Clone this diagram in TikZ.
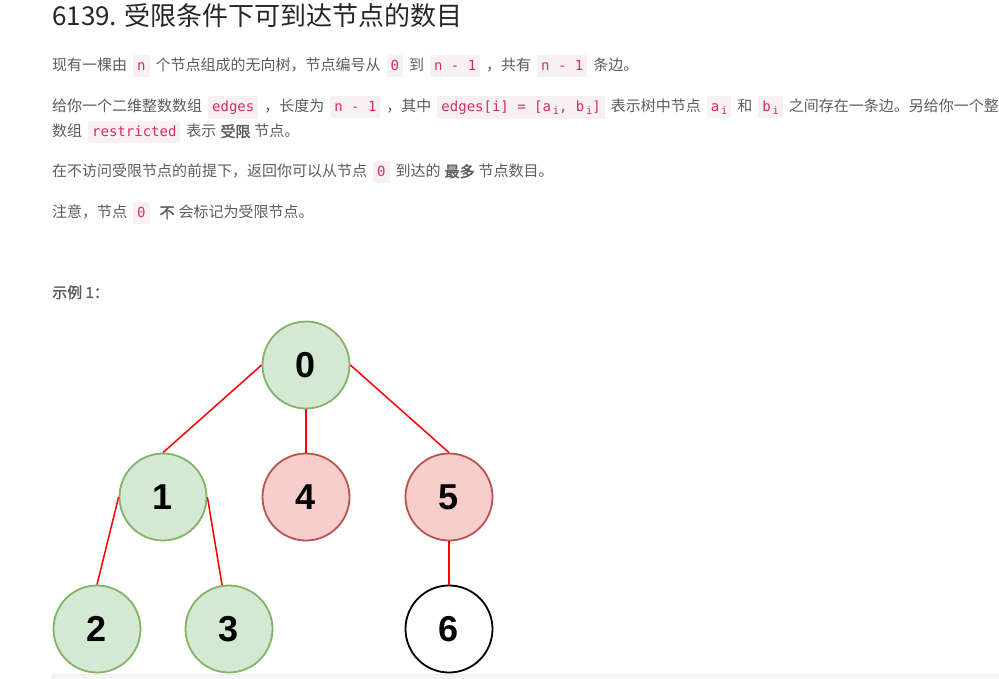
\documentclass[tikz,border=0pt]{standalone}
\usepackage{fontspec}
\setmainfont{Noto Sans CJK SC}[AutoFakeBold=2]
\newfontfamily\codefont{DejaVu Sans Mono}
\newfontfamily\numfont{Liberation Sans}
\usetikzlibrary{positioning}
\definecolor{txt}{HTML}{5C5C5C}
\definecolor{ttl}{HTML}{262626}
\definecolor{codefg}{HTML}{D42F5C}
\definecolor{codebg}{HTML}{F7F1F3}
\definecolor{gfill}{HTML}{D5E8D4}
\definecolor{gline}{HTML}{82B366}
\definecolor{rfill}{HTML}{F8CECC}
\definecolor{rline}{HTML}{B85450}
\definecolor{boxbg}{HTML}{F5F5F5}
\definecolor{boxline}{HTML}{D0D0D0}
\newcommand{\chip}[1]{\hspace{6pt}{\setlength{\fboxsep}{4pt}\colorbox{codebg}{\rule[-2pt]{0pt}{14pt}\codefont\fontsize{14}{17}\selectfont\color{codefg}#1}}\hspace{6pt}}
\newcommand{\boldword}[1]{\hspace{4pt}{\bfseries #1}\hspace{4pt}}
\newcommand{\subi}{\raisebox{-2.5pt}{\fontsize{10.5}{10}\selectfont\,i}}
\tikzset{
  para/.style={anchor=base west, inner sep=0pt, text=txt, font=\fontsize{15}{18}\selectfont},
  tnode/.style={draw, circle, line width=1.8pt, minimum size=87pt, font=\numfont\bfseries\fontsize{36}{36}\selectfont},
  keep/.style={tnode, fill=gfill, draw=gline},
  cut/.style={tnode, fill=rfill, draw=rline},
  plain/.style={tnode, fill=white, draw=black},
  edge/.style={red, line width=1.5pt}
}
\begin{document}
\begin{tikzpicture}[x=1pt,y=-1pt]
\useasboundingbox (0,0) rectangle (999,679);
\clip (0,0) rectangle (999,679);
% text of the problem
\node[para, text=ttl, font=\fontsize{26}{30}\selectfont] (title) at (52,26) {6139. 受限条件下可到达节点的数目};
\node[para] (L1) at (52,71) {现有一棵由\chip{n}个节点组成的无向树，节点编号从\chip{0}到\chip{n - 1}，共有\chip{n - 1}条边。};
\node[para] (L2) at (52,112) {给你一个二维整数数组\chip{edges}，长度为\chip{n - 1}，其中\chip{edges[i] = [a\subi, b\subi]}表示树中节点\chip{a\subi}和\chip{b\subi}之间存在一条边。另给你一个整数};
\node[para] (L3) at (52,137) {数组\chip{restricted}表示\boldword{受限}节点。};
\node[para] (L4) at (52,177) {在不访问受限节点的前提下，返回你可以从节点\chip{0}到达的\boldword{最多}节点数目。};
\node[para] (L5) at (52,218) {注意，节点\chip{0}\boldword{不}会标记为受限节点。};
\node[para, font=\fontsize{15}{18}\selectfont\bfseries] (ex) at (52,298) {示例 1：};
% the tree
\node[keep] (V0) at (306,365) {0};
\node[keep] (V1) at (163,497) {1};
\node[cut] (V4) at (306,497) {4};
\node[cut] (V5) at (449,497) {5};
\node[keep] (V2) at (97,629) {2};
\node[keep] (V3) at (229,629) {3};
\node[plain] (V6) at (449,629) {6};
\draw[edge] (V0.west) -- (V1.north);
\draw[edge] (V0.south) -- (V4.north);
\draw[edge] (V0.east) -- (V5.north);
\draw[edge] (V1.west) -- (V2.north);
\draw[edge] (V1.east) -- (V3.99);
\draw[edge] (V5.south) -- (V6.north);
% next block
\draw[draw=boxline, fill=boxbg, rounded corners=3pt] (52,674.5) rectangle (1010,700);
\end{tikzpicture}
\end{document}
